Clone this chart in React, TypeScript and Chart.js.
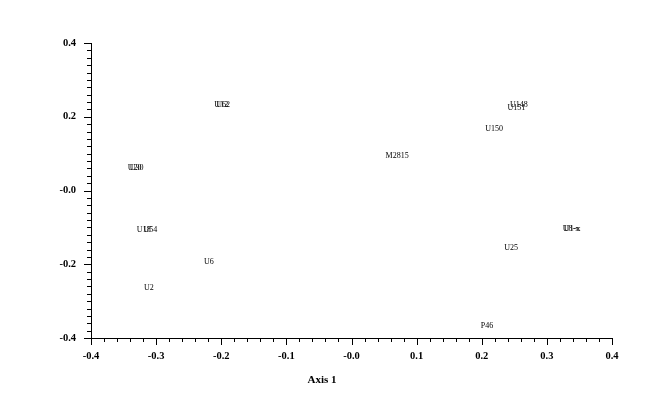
import React, { useEffect, useRef } from "react";
import { Chart, registerables } from "chart.js";

Chart.register(...registerables);

const pointLabels = ["U20", "U30", "U18", "U54", "U6", "U2", "U12", "U62", "M2815", "U150", "U148", "U151", "U8-x", "U1-x", "U25", "P46"];
const axis1Values = [-0.333, -0.330, -0.319, -0.309, -0.219, -0.311, -0.200, -0.197, 0.070, 0.219, 0.257, 0.253, 0.337, 0.339, 0.245, 0.208];
const axis2Values = [0.061, 0.061, -0.107, -0.107, -0.194, -0.264, 0.233, 0.233, 0.094, 0.167, 0.232, 0.224, -0.104, -0.104, -0.156, -0.367];
const xTitle = "Axis 1";

const fmt = (v: number, every: number) => {
  const t = Math.round(v * 100);
  if (t % every !== 0) return "";
  return t === 0 ? "-0.0" : (t / 100).toFixed(1);
};

const isMajor = (v: number, every: number) => Math.round(v * 100) % every === 0;

const overlayPlugin = {
  id: "overlay",
  afterDraw(chart: any) {
    const { ctx, chartArea } = chart;
    const xs = chart.scales.x;
    const ys = chart.scales.y;
    ctx.save();
    ctx.strokeStyle = "#000";
    ctx.lineWidth = 1;
    ctx.beginPath();
    xs.ticks.forEach((t: any) => {
      const px = Math.round(xs.getPixelForValue(t.value)) + 0.5;
      const len = isMajor(t.value, 10) ? 7 : 4;
      ctx.moveTo(px, chartArea.bottom);
      ctx.lineTo(px, chartArea.bottom + len);
    });
    ys.ticks.forEach((t: any) => {
      const py = Math.round(ys.getPixelForValue(t.value)) + 0.5;
      const len = isMajor(t.value, 20) ? 7 : 4;
      ctx.moveTo(chartArea.left - len, py);
      ctx.lineTo(chartArea.left, py);
    });
    ctx.stroke();

    ctx.fillStyle = "#000";
    ctx.font = "8px 'Liberation Serif'";
    ctx.textAlign = "center";
    ctx.textBaseline = "middle";
    const meta = chart.getDatasetMeta(0);
    meta.data.forEach((el: any, i: number) => {
      ctx.fillText(pointLabels[i], el.x, el.y);
    });

    ctx.font = "bold 11px 'Liberation Serif'";
    ctx.fillText(xTitle, 322, 380);
    ctx.restore();
  },
};

export default function App() {
  const ref = useRef<HTMLCanvasElement>(null);
  useEffect(() => {
    if (!ref.current) return;
    const chart = new Chart(ref.current, {
      type: "scatter",
      data: {
        datasets: [
          {
            data: axis1Values.map((x, i) => ({ x, y: axis2Values[i] })),
            pointRadius: 0,
            pointHoverRadius: 0,
          },
        ],
      },
      options: {
        animation: false,
        responsive: false,
        events: [],
        layout: { padding: { top: 43, right: 52, left: 0, bottom: 0 } },
        plugins: { legend: { display: false }, tooltip: { enabled: false } },
        scales: {
          x: {
            type: "linear",
            min: -0.4,
            max: 0.4,
            afterFit: (s: any) => {
              s.height = 75;
            },
            grid: { display: false },
            border: { display: true, color: "#000", width: 1 },
            ticks: {
              stepSize: 0.02,
              autoSkip: false,
              maxRotation: 0,
              padding: 4,
              color: "#000",
              font: { family: "'Liberation Serif'", size: 10.5, weight: "bold" },
              callback: (v: any) => fmt(Number(v), 10),
            },
          },
          y: {
            type: "linear",
            min: -0.4,
            max: 0.4,
            afterFit: (s: any) => {
              s.width = 91;
            },
            grid: { display: false },
            border: { display: true, color: "#000", width: 1 },
            ticks: {
              stepSize: 0.02,
              autoSkip: false,
              padding: 7,
              color: "#000",
              font: { family: "'Liberation Serif'", size: 10.5, weight: "bold" },
              callback: (v: any) => fmt(Number(v), 20),
            },
          },
        },
      },
      plugins: [overlayPlugin],
    });
    return () => chart.destroy();
  }, []);
  return (
    <div style={{ position: "absolute", left: 0, top: 0, width: 664, height: 413, background: "#fff" }}>
      <canvas ref={ref} width={664} height={413} />
    </div>
  );
}
